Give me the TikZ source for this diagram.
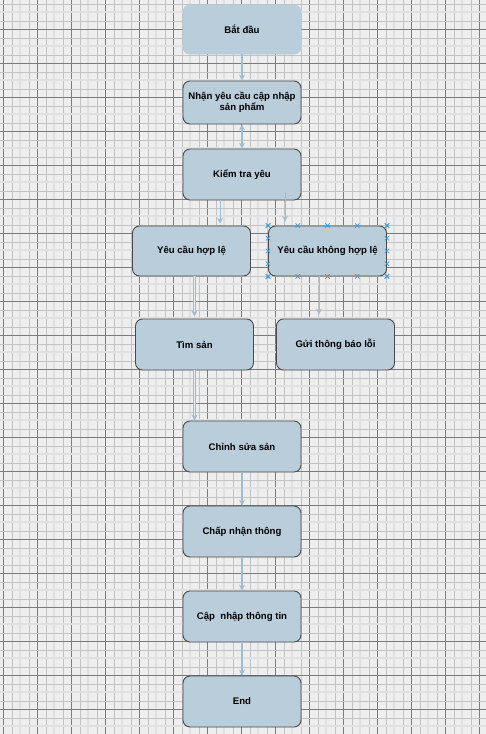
\documentclass[tikz,border=0pt]{standalone}
\usepackage{fontspec}
\setmainfont{Liberation Sans}
\usetikzlibrary{arrows.meta,calc}
\definecolor{boxfill}{HTML}{B9CDDB}
\definecolor{boxline}{HTML}{4A4A4A}
\definecolor{arrowblue}{HTML}{9DBCD6}
\definecolor{gridbg}{HTML}{EEEEEE}
\definecolor{selblue}{HTML}{3A9AE0}
\tikzset{
  flowbox/.style={draw=boxline, line width=0.9pt, fill=boxfill, rounded corners=7pt,
    minimum width=118pt, minimum height=50pt, align=center,
    font=\fontsize{9.6}{11}\selectfont\bfseries, inner sep=2pt},
  flowarrow/.style={draw=arrowblue, line width=1.2pt, -{Stealth[length=6pt,width=6pt]}},
  flowdouble/.style={draw=arrowblue, line width=0.6pt, double=white!70!arrowblue,
    double distance=1pt, -{Stealth[length=6pt,width=6pt]}},
  selmark/.style={draw=selblue, line width=0.7pt}
}
\begin{document}
\begin{tikzpicture}[x=1pt,y=1pt]
\useasboundingbox (0,0) rectangle (486,-734);
% grid background
\fill[gridbg] (0,0) rectangle (486,-734);
\begin{scope}
\clip (0,0) rectangle (486,-734);
\foreach \k in {-1,...,14} {
  \draw[black!12, line width=2pt] (3.3+34*\k+17,0) -- ++(0,-734);
  \draw[black!24, line width=0.6pt] (3.3+34*\k+8.5,0) -- ++(0,-734);
  \draw[black!24, line width=0.6pt] (3.3+34*\k+25.5,0) -- ++(0,-734);
  \draw[black!52, line width=0.9pt] (3.3+34*\k,0) -- ++(0,-734);
}
\foreach \k in {-1,...,22} {
  \draw[black!12, line width=2pt] (0,-29.3-34*\k-17) -- ++(486,0);
  \draw[black!24, line width=0.6pt] (0,-29.3-34*\k-8.5) -- ++(486,0);
  \draw[black!24, line width=0.6pt] (0,-29.3-34*\k-25.5) -- ++(486,0);
  \draw[black!52, line width=0.9pt] (0,-29.3-34*\k) -- ++(486,0);
}
\end{scope}

% nodes
\node (start) [flowbox, draw=boxfill, minimum height=49pt] at (242,-29.5) {Bắt đầu};
\node (recv) [flowbox, minimum height=43pt] at (242,-102.5) {Nhận yêu cầu cập nhập\\sản phẩm};
\node (check) [flowbox, minimum height=51pt] at (242,-174.5) {Kiểm tra yêu};
\node (valid) [flowbox] at (191.5,-251) {Yêu cầu hợp lệ};
\node (invalid) [flowbox] at (327.5,-251) {Yêu cầu không hợp lệ};
\node (find) [flowbox, minimum height=51pt] at (194.5,-344.5) {Tìm sản};
\node (err) [flowbox, minimum height=51pt] at (335.5,-344.5) {Gửi thông báo lỗi};
\node (edit) [flowbox, minimum height=51pt] at (242,-446.5) {Chỉnh sửa sản};
\node (accept) [flowbox, minimum height=51pt] at (242,-531.5) {Chấp nhận thông};
\node (update) [flowbox, minimum height=51pt] at (242,-616.5) {Cập~~nhập thông tin};
\node (endn) [flowbox, minimum height=51pt] at (242,-701.5) {End};

% selection handles
\foreach \f in {0,0.25,0.5,0.75,1} {
  \foreach \p in {($(invalid.north west)!\f!(invalid.north east)$),
                  ($(invalid.south west)!\f!(invalid.south east)$),
                  ($(invalid.north west)!\f!(invalid.south west)$),
                  ($(invalid.north east)!\f!(invalid.south east)$)} {
    \draw[selmark] \p +(-2.2,-2.2) -- +(2.2,2.2) +(-2.2,2.2) -- +(2.2,-2.2);
  }
}

% connectors
\draw[flowarrow] (start) -- (recv);
\draw[flowarrow, {Stealth[length=6pt,width=6pt]}-{Stealth[length=6pt,width=6pt]}] (recv) -- (check);
\draw[flowarrow, line width=0.9pt, shorten >=2pt] ([xshift=-22pt]check.south) -- ([xshift=-22pt]check.south |- valid.north);
\draw[flowarrow, line width=0.9pt, shorten >=4pt] ([xshift=43pt,yshift=8pt]check.south) -- ([xshift=43pt]check.south |- invalid.north);
\draw[flowdouble, shorten >=2pt] (find.north |- valid.south) -- (find.north);
\draw[flowarrow, line width=0.9pt, shorten >=4pt] ([xshift=-8.5pt]invalid.south) -- ([xshift=-8.5pt]invalid.south |- err.north);
\draw[flowdouble] (find.south) -- (find.south |- edit.north);
\draw[flowarrow] (edit) -- (accept);
\draw[flowarrow] (accept) -- (update);
\draw[flowarrow] (update) -- (endn);
\end{tikzpicture}
\end{document}
